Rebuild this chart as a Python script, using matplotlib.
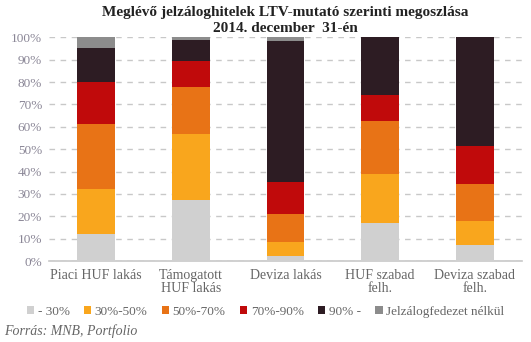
import matplotlib
matplotlib.use("Agg")
import matplotlib.pyplot as plt
import numpy as np

categories = ["Piaci HUF lakás", "Támogatott\nHUF lakás", "Deviza lakás", "HUF szabad\nfelh.", "Deviza szabad\nfelh."]
series_names = ["- 30%", "30%-50%", "50%-70%", "70%-90%", "90% -", "Jelzálogfedezet nélkül"]
s_30 = [12.1, 27.3, 2.2, 17.0, 7.2]
s_30_50 = [20.1, 29.5, 6.3, 21.9, 10.7]
s_50_70 = [29.0, 21.0, 12.5, 23.7, 16.5]
s_70_90 = [18.8, 11.6, 14.3, 11.6, 17.0]
s_90 = [15.2, 9.4, 63.0, 25.8, 48.6]
s_none = [4.8, 1.2, 1.7, 0.0, 0.0]
colors = ["#D0D0D0", "#F9A61D", "#E87316", "#C00A0B", "#2D1C23", "#8C8C8C"]

plt.rcParams['font.family'] = ['Liberation Serif', 'DejaVu Serif']
fig = plt.figure(figsize=(5.31, 3.42), dpi=100)
ax = fig.add_axes([49/531, 81/342, 473/531, 223.7/342])

x = np.arange(len(categories))
bottom = np.zeros(len(categories))
all_series = [s_30, s_30_50, s_50_70, s_70_90, s_90, s_none]
for name, vals, c in zip(series_names, all_series, colors):
    v = np.array(vals) / 100
    ax.bar(x, v, bottom=bottom, width=0.40, color=c, label=name, zorder=3)
    bottom += v

ax.set_xlim(-0.5, 4.5)
ax.set_ylim(0, 1)
ax.set_yticks(np.arange(0, 1.01, 0.1))
ax.set_yticklabels([f"{int(round(t*100))}%" for t in np.arange(0, 1.01, 0.1)], fontsize=9.5, color="#8a8696")
ax.set_xticks(x)
ax.set_xticklabels(categories, fontsize=10, color="#666666", linespacing=1.0)
ax.tick_params(axis='both', length=0)
ax.tick_params(axis='x', pad=6)
ax.tick_params(axis='y', pad=5)
ax.yaxis.grid(True, linestyle=(0, (4, 4)), color="#C8C8C8", linewidth=1, zorder=0)
ax.set_axisbelow(True)
for s in ["top", "right", "left"]:
    ax.spines[s].set_visible(False)
ax.spines["bottom"].set_color("#C8C8C8")
ax.spines["bottom"].set_linewidth(1.2)

fig.text(0.537, 1 - 12.5/342, "Meglévő jelzáloghitelek LTV-mutató szerinti megoszlása",
         ha="center", va="center", fontsize=11, fontweight="bold", color="#222222")
fig.text(0.537, 1 - 28/342, "2014. december  31-én",
         ha="center", va="center", fontsize=11, fontweight="bold", color="#222222")

leg = fig.legend(loc="center", bbox_to_anchor=(0.5, 0.088), ncol=6, frameon=False,
                 fontsize=9.5, handlelength=0.55, handleheight=0.55, handletextpad=0.25,
                 columnspacing=1.1, borderaxespad=0)
for t in leg.get_texts():
    t.set_color("#666666")

fig.text(0.008, 0.032, "Forrás: MNB, Portfolio", fontsize=10, style="italic", color="#666666", va="center")

fig.savefig("out.png", dpi=100)
